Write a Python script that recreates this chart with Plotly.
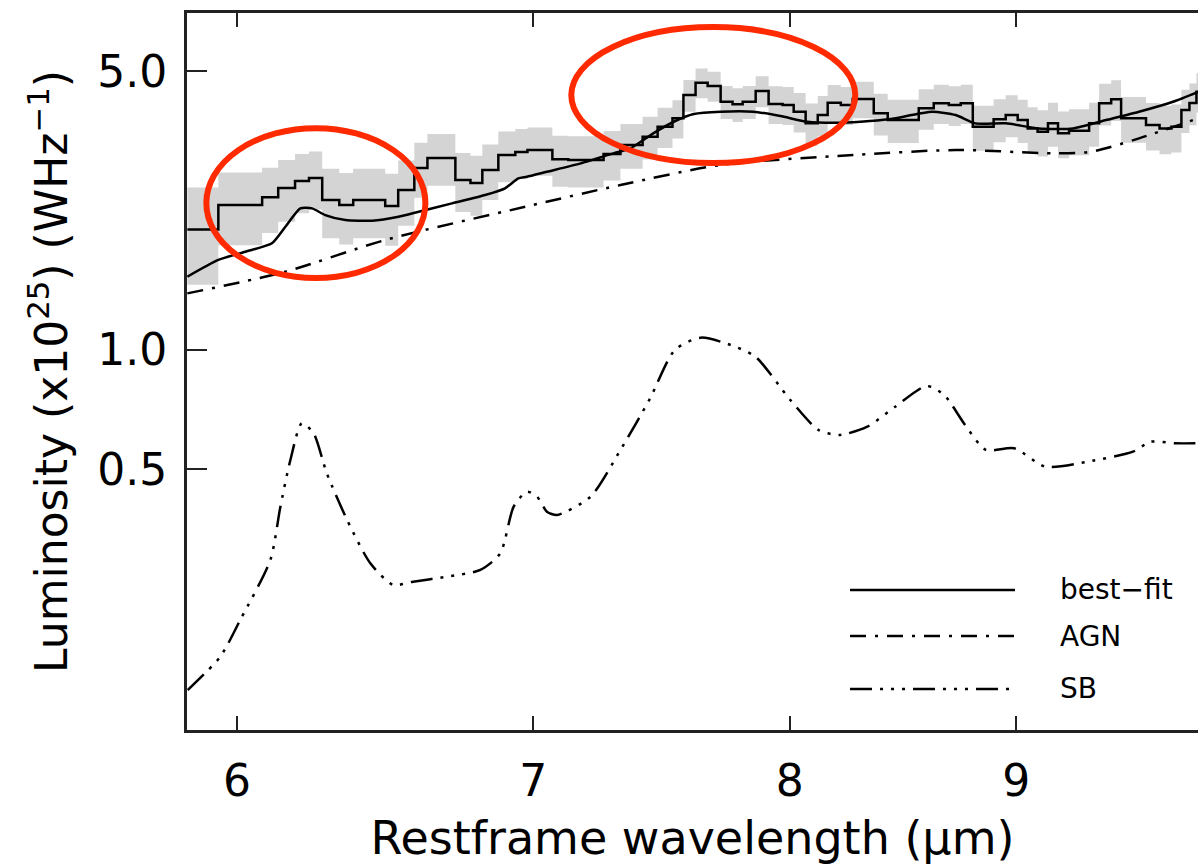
import plotly.graph_objects as go

# ---------------- data ----------------
# observed spectrum: bin edges (micron) and luminosity per bin (x1e25 W/Hz)
bin_edges = [5.847, 5.942, 6.079, 6.130, 6.184, 6.229, 6.272, 6.328, 6.374, 6.481,
             6.525, 6.580, 6.625, 6.722, 6.775, 6.817, 6.874, 6.935, 6.979, 7.070,
             7.129, 7.261, 7.325, 7.410, 7.468, 7.526, 7.569, 7.617, 7.665, 7.717,
             7.765, 7.806, 7.859, 7.912, 7.970, 8.016, 8.066, 8.117, 8.159, 8.215,
             8.266, 8.357, 8.418, 8.555, 8.622, 8.690, 8.744, 8.799, 8.895, 8.951,
             9.007, 9.054, 9.101, 9.150, 9.198, 9.251, 9.348, 9.397, 9.456, 9.505,
             9.629, 9.697, 9.757, 9.808, 9.849, 9.885, 9.950]
flux = [2.004, 2.307, 2.412, 2.546, 2.651, 2.697, 2.375, 2.307, 2.375, 2.294,
        2.516, 2.858, 3.028, 2.667, 2.620, 2.825, 3.081, 3.135, 3.172, 3.005,
        2.993, 3.099, 3.265, 3.424, 3.629, 3.810, 4.359, 4.682, 4.593, 4.195,
        4.132, 4.195, 4.462, 4.139, 4.115, 3.959, 3.701, 3.884, 4.170, 4.115,
        4.260, 3.922, 3.773, 4.037, 4.156, 4.115, 4.156, 3.629, 3.788, 3.884,
        3.773, 3.595, 3.525, 3.701, 3.493, 3.546, 3.701, 4.156, 4.253, 3.810,
        3.665, 3.595, 3.629, 3.998, 4.163, 4.443]
flux_err = [0.55, 0.48, 0.45, 0.45, 0.45, 0.45, 0.47, 0.47, 0.47, 0.47,
            0.47, 0.45, 0.45, 0.45, 0.45, 0.45, 0.45, 0.45, 0.44, 0.44,
            0.44, 0.44, 0.42, 0.42, 0.42, 0.42, 0.40, 0.40, 0.40, 0.40,
            0.40, 0.40, 0.40, 0.45, 0.45, 0.45, 0.45, 0.45, 0.45, 0.45,
            0.45, 0.47, 0.47, 0.47, 0.47, 0.47, 0.47, 0.47, 0.47, 0.47,
            0.47, 0.47, 0.47, 0.47, 0.47, 0.47, 0.47, 0.50, 0.50, 0.50,
            0.50, 0.50, 0.50, 0.50, 0.50, 0.50]

bestfit_wl = [5.847, 5.942, 6.026, 6.110, 6.153, 6.201, 6.239, 6.282, 6.348, 6.437,
              6.526, 6.595, 6.710, 6.827, 6.898, 6.946, 6.977, 7.050, 7.175, 7.298,
              7.363, 7.451, 7.531, 7.610, 7.717, 7.850, 7.961, 8.073, 8.200, 8.300,
              8.422, 8.615, 8.721, 8.811, 8.951, 9.106, 9.269, 9.431, 9.594, 9.765,
              9.893]
bestfit_lum = [1.524, 1.679, 1.761, 1.849, 2.035, 2.263, 2.263, 2.177, 2.115, 2.107,
               2.156, 2.220, 2.330, 2.445, 2.541, 2.692, 2.717, 2.797, 2.937, 3.111,
               3.203, 3.493, 3.736, 3.906, 3.959, 3.959, 3.861, 3.736, 3.714, 3.736,
               3.788, 3.959, 3.884, 3.701, 3.701, 3.595, 3.595, 3.773, 3.959, 4.195,
               4.443]

agn_wl = [5.847, 6.153, 6.481, 6.972, 7.325, 7.717, 8.270, 8.721, 9.188, 9.357, 9.594, 9.893]
agn_lum = [1.384, 1.569, 1.884, 2.285, 2.590, 2.908, 3.081, 3.172, 3.111, 3.140, 3.394, 3.810]

sb_wl = [5.848, 5.948, 6.010, 6.105, 6.137, 6.169, 6.206, 6.244, 6.287, 6.354,
         6.431, 6.508, 6.576, 6.691, 6.810, 6.881, 6.929, 6.977, 7.014, 7.050,
         7.087, 7.212, 7.325, 7.439, 7.535, 7.638, 7.758, 7.858, 8.002, 8.120,
         8.208, 8.329, 8.451, 8.590, 8.669, 8.764, 8.859, 8.990, 9.139, 9.340,
         9.564, 9.651, 9.776, 9.893]
sb_lum = [0.1394, 0.1691, 0.2091, 0.2959, 0.4027, 0.5277, 0.6526, 0.6159, 0.4886, 0.3728,
          0.2903, 0.2561, 0.2610, 0.2686, 0.2793, 0.3075, 0.4027, 0.4393, 0.4268, 0.3913,
          0.3839, 0.4268, 0.5592, 0.7541, 0.9970, 1.0710, 1.0260, 0.9592, 0.7465, 0.6277,
          0.6099, 0.6398, 0.7183, 0.8095, 0.7686, 0.6461, 0.5592, 0.5646, 0.5076, 0.5225,
          0.5536, 0.5866, 0.5812, 0.5812]

x_ticks = [6, 7, 8, 9, 10]
y_ticks = [0.5, 1.0, 5.0]
y_ticktext = ["0.5", "1.0", "5.0"]

legend_labels = ["best\u2212fit", "AGN", "SB"]

# highlighted regions (wavelength min/max, luminosity min/max)
highlight_wl = [(5.905, 6.618), (7.140, 8.277)]
highlight_lum = [(1.512, 3.60), (2.942, 6.46)]

# ---------------- styles ----------------
FONT = "DejaVu Sans"
AGN_DASH = "16px,9px,3px,9px"
SB_DASH = "22px,8px,3px,8px,3px,8px,3px,8px"
LINE_W = 2.5

fig = go.Figure()

lo = [f - e for f, e in zip(flux, flux_err)]
hi = [f + e for f, e in zip(flux, flux_err)]

fig.add_trace(go.Scatter(x=bin_edges, y=lo + [lo[-1]], mode="lines", line_shape="hv",
                         line=dict(width=0, color="#d4d4d4"), showlegend=False,
                         hoverinfo="skip"))
fig.add_trace(go.Scatter(x=bin_edges, y=hi + [hi[-1]], mode="lines", line_shape="hv",
                         line=dict(width=0, color="#d4d4d4"), fill="tonexty",
                         fillcolor="#d4d4d4", showlegend=False, hoverinfo="skip"))
fig.add_trace(go.Scatter(x=bin_edges, y=flux + [flux[-1]], mode="lines", line_shape="hv",
                         line=dict(width=LINE_W, color="black"), showlegend=False))
fig.add_trace(go.Scatter(x=bestfit_wl, y=bestfit_lum, mode="lines",
                         line=dict(width=LINE_W, color="black", shape="spline", smoothing=0.6),
                         name=legend_labels[0], showlegend=False))
fig.add_trace(go.Scatter(x=agn_wl, y=agn_lum, mode="lines",
                         line=dict(width=LINE_W, color="black", dash=AGN_DASH,
                                   shape="spline", smoothing=0.8),
                         name=legend_labels[1], showlegend=False))
fig.add_trace(go.Scatter(x=sb_wl, y=sb_lum, mode="lines",
                         line=dict(width=LINE_W, color="black", dash=SB_DASH,
                                   shape="spline", smoothing=0.7),
                         name=legend_labels[2], showlegend=False))

# red highlight ellipses
for (x0, x1), (y0, y1) in zip(highlight_wl, highlight_lum):
    fig.add_shape(type="circle", xref="x", yref="y", x0=x0, x1=x1, y0=y0, y1=y1,
                  line=dict(color="#ff2a00", width=6), layer="above")

# hand-made legend (long line samples as in the original)
legend_y = [0.1953, 0.1311, 0.0572]
legend_dash = ["solid", AGN_DASH, SB_DASH]
for lab, ly, dsh in zip(legend_labels, legend_y, legend_dash):
    fig.add_shape(type="line", xref="paper", yref="paper", x0=0.6558, x1=0.8190,
                  y0=ly, y1=ly, line=dict(color="black", width=LINE_W, dash=dsh))
    fig.add_annotation(xref="paper", yref="paper", x=0.8615, y=ly, text=lab,
                       showarrow=False, xanchor="left", yanchor="middle",
                       font=dict(family=FONT, size=28, color="black"))

fig.update_layout(
    width=1198, height=867,
    margin=dict(l=187, r=0, t=13, b=137),
    paper_bgcolor="white", plot_bgcolor="white",
    showlegend=False,
    font=dict(family=FONT, color="black"),
    xaxis=dict(
        type="log", range=[0.76685, 0.99533],
        tickvals=x_ticks, ticktext=[str(v) for v in x_ticks],
        ticks="inside", ticklen=14, tickwidth=2, tickcolor="#222",
        showline=True, linecolor="#222", linewidth=3, mirror="ticks",
        showgrid=False, zeroline=False,
        tickfont=dict(family=FONT, size=44, color="black"),
        ticklabelstandoff=10,
        title=dict(text="Restframe wavelength (\u03bcm)", standoff=18,
                   font=dict(family=FONT, size=46, color="black")),
    ),
    yaxis=dict(
        type="log", range=[-0.9562, 0.8457],
        tickvals=y_ticks, ticktext=y_ticktext,
        ticks="inside", ticklen=20, tickwidth=2, tickcolor="#222",
        showline=True, linecolor="#222", linewidth=3, mirror=False,
        showgrid=False, zeroline=False,
        tickfont=dict(family=FONT, size=44, color="black"),
        ticklabelstandoff=8,
        title=dict(text="Luminosity (x10<sup>25</sup>) (WHz<sup>\u22121</sup>)", standoff=16,
                   font=dict(family=FONT, size=44, color="black")),
    ),
)

fig.write_html("out.html")
